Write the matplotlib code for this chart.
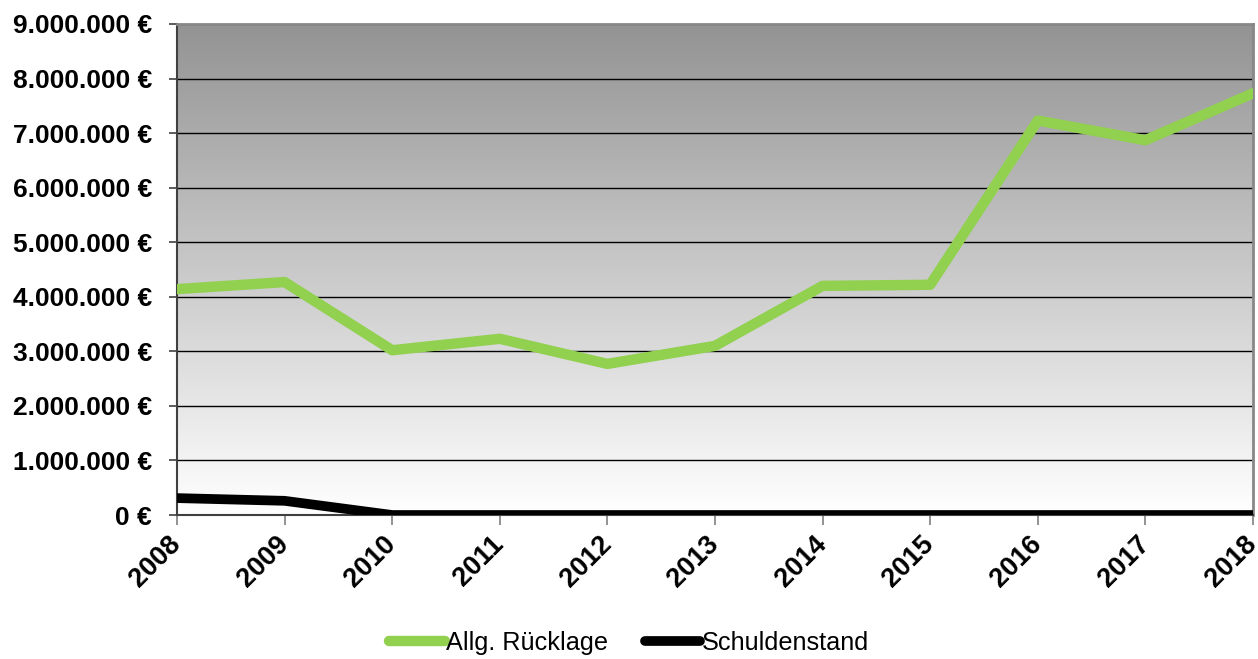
import numpy as np
import matplotlib.pyplot as plt
from matplotlib.colors import LinearSegmentedColormap
from matplotlib.ticker import FuncFormatter

# chart values
years = ['2008', '2009', '2010', '2011', '2012', '2013', '2014', '2015', '2016', '2017', '2018']
ruecklage = [4140000, 4270000, 3020000, 3230000, 2770000, 3100000, 4200000, 4220000, 7230000, 6870000, 7730000]
schulden = [310000, 260000, 0, 0, 0, 0, 0, 0, 0, 0, 0]
y_ticks = [0, 1000000, 2000000, 3000000, 4000000, 5000000, 6000000, 7000000, 8000000, 9000000]

plt.rcParams['font.family'] = ['Liberation Sans', 'DejaVu Sans']

fig = plt.figure(figsize=(12.58, 6.59), dpi=100)
ax = fig.add_axes([0.1407, 0.2185, 0.8553, 0.7451])

x = np.arange(len(years))

# grey-to-white gradient background
grad = LinearSegmentedColormap.from_list('bg', ['#ffffff', '#939393'])
ax.imshow(np.linspace(0, 1, 256).reshape(-1, 1), cmap=grad, origin='lower',
          extent=[0, 1, 0, 1], transform=ax.transAxes, aspect='auto', zorder=0)

for yv in y_ticks[1:]:
    ax.axhline(yv, color='black', linewidth=1.0, zorder=1)

ax.plot(x, ruecklage, color='#92D050', linewidth=7.5, solid_capstyle='round',
        solid_joinstyle='round', label='Allg. Rücklage', zorder=3)
ax.plot(x, schulden, color='black', linewidth=7, solid_capstyle='round',
        solid_joinstyle='round', label='Schuldenstand', zorder=3)

ax.set_xlim(0, len(years) - 1)
ax.set_ylim(0, 9000000)
ax.set_xticks(x)
ax.set_xticklabels(years, rotation=45, ha='right', va='center',
                   rotation_mode='anchor', fontsize=19.5, fontweight='bold')
ax.set_yticks(y_ticks)
ax.yaxis.set_major_formatter(FuncFormatter(lambda v, p: f"{int(v):,} €".replace(',', '.')))
for lab in ax.get_yticklabels():
    lab.set_fontsize(19)
    lab.set_fontweight('bold')

ax.tick_params(axis='both', direction='out', length=6, width=1.2, color='#404040')
ax.tick_params(axis='x', length=7, color='#808080', pad=11)
ax.tick_params(axis='y', pad=12)

for side in ['left', 'bottom']:
    ax.spines[side].set_color('#404040')
    ax.spines[side].set_linewidth(1.5)
for side in ['top', 'right']:
    ax.spines[side].set_color('#888888')
    ax.spines[side].set_linewidth(2)

leg = fig.legend(loc='lower center', bbox_to_anchor=(0.5, -0.028), ncol=2, frameon=False,
                 fontsize=18.2, handlelength=2.2, handletextpad=0.05, columnspacing=1.45)

fig.savefig('out.png', dpi=100)
